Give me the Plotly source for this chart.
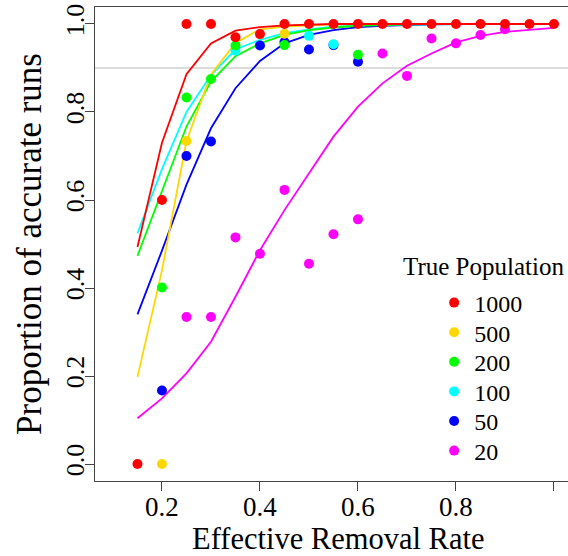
import plotly.graph_objects as go

# ---- data ----
groups = ["20", "50", "100", "200", "500", "1000"]
legend_order = ["1000", "500", "200", "100", "50", "20"]
colors = {"1000": "#FF0000", "500": "#FFD700", "200": "#00FF00",
          "100": "#00FFFF", "50": "#0000FF", "20": "#FF00FF"}

# observed proportions
obs_x = {
    "1000": [0.15, 0.2, 0.25, 0.3, 0.35, 0.4, 0.45, 0.5, 0.55, 0.6, 0.65, 0.7, 0.75, 0.8, 0.85, 0.9, 0.95, 1.0],
    "500": [0.2, 0.25, 0.45],
    "200": [0.2, 0.25, 0.3, 0.35, 0.45, 0.6],
    "100": [0.35, 0.5, 0.55],
    "50": [0.2, 0.25, 0.3, 0.4, 0.45, 0.5, 0.55, 0.6],
    "20": [0.25, 0.3, 0.35, 0.4, 0.45, 0.5, 0.55, 0.6, 0.65, 0.7, 0.75, 0.8, 0.85, 0.9],
}
obs_y = {
    "1000": [0.0, 0.6, 1.0, 1.0, 0.97, 0.977, 1, 1, 1, 1, 1, 1, 1, 1, 1, 1, 1, 1],
    "500": [0.0, 0.734, 0.978],
    "200": [0.401, 0.833, 0.875, 0.951, 0.952, 0.93],
    "100": [0.939, 0.973, 0.954],
    "50": [0.167, 0.70, 0.733, 0.951, 0.959, 0.942, 0.952, 0.914],
    "20": [0.334, 0.334, 0.515, 0.478, 0.623, 0.455, 0.522, 0.556, 0.933, 0.882, 0.967, 0.956, 0.975, 0.988],
}

# fitted curves
fit_x = [0.15, 0.2, 0.25, 0.3, 0.35, 0.4, 0.45, 0.5, 0.55, 0.6, 0.65, 0.7, 0.75, 0.8, 0.85, 0.9, 0.95, 1.0]
fit_y = {
    "1000": [0.493, 0.73, 0.886, 0.956, 0.985, 0.993, 0.997, 0.999, 1.0, 1.0, 1.0, 1.0, 1.0, 1.0, 1.0, 1.0, 1.0, 1.0],
    "500": [0.198, 0.44, 0.734, 0.885, 0.957, 0.988, 0.994, 0.997, 0.999, 1.0, 1.0, 1.0, 1.0, 1.0, 1.0, 1.0, 1.0, 1.0],
    "200": [0.473, 0.62, 0.767, 0.869, 0.927, 0.956, 0.975, 0.986, 0.992, 0.996, 0.998, 0.999, 1.0, 1.0, 1.0, 1.0, 1.0, 1.0],
    "100": [0.524, 0.67, 0.80, 0.884, 0.942, 0.964, 0.979, 0.988, 0.994, 0.997, 0.998, 0.999, 1.0, 1.0, 1.0, 1.0, 1.0, 1.0],
    "50": [0.34, 0.485, 0.635, 0.763, 0.854, 0.916, 0.956, 0.975, 0.986, 0.993, 0.996, 0.998, 0.999, 1.0, 1.0, 1.0, 1.0, 1.0],
    "20": [0.104, 0.149, 0.206, 0.278, 0.38, 0.486, 0.577, 0.661, 0.744, 0.812, 0.865, 0.905, 0.933, 0.958, 0.973, 0.982, 0.987, 0.991],
}

threshold = 0.9
x_ticks = [0.2, 0.4, 0.6, 0.8, 1.0]
y_ticks = [0.0, 0.2, 0.4, 0.6, 0.8, 1.0]

FONT = "Liberation Serif"
W, H = 568, 556
ML, MT, MB = 95, 7, 75
PH = H - MT - MB
PW = W - ML

fig = go.Figure()

fig.add_hline(y=threshold, line=dict(color="#D0D0D0", width=1.5), layer="below")

for g in groups:
    fig.add_trace(go.Scatter(x=fit_x, y=fit_y[g], mode="lines",
                             line=dict(color=colors[g], width=1.8),
                             showlegend=False, hoverinfo="skip"))

legend_ids = {}
for i, g in enumerate(legend_order):
    legend_ids[g] = "legend" if i == 0 else "legend%d" % (i + 1)

for g in groups:
    fig.add_trace(go.Scatter(x=obs_x[g], y=obs_y[g], mode="markers", name=g,
                             marker=dict(color=colors[g], size=10, line=dict(width=0)),
                             showlegend=True, legend=legend_ids[g]))

fig.add_annotation(text="True Population", xref="paper", yref="paper",
                   x=0.8224, y=0.452, xanchor="center", yanchor="middle",
                   showarrow=False, font=dict(family=FONT, size=25, color="black"))

# x-axis title as an annotation (placed below the tick labels)
fig.add_annotation(text="Effective Removal Rate", xref="paper", yref="paper",
                   x=(338 - ML) / PW, y=-(539 - (H - MB)) / PH, xanchor="center", yanchor="middle",
                   showarrow=False, font=dict(family=FONT, size=30.5, color="black"))

# one legend box per entry so entries can be spaced like the original
item_centers_px = [303, 332.6, 362.2, 391.8, 421.4, 451]
legend_layout = {}
for i, g in enumerate(legend_order):
    legend_layout[legend_ids[g]] = dict(
        x=0.717, y=1 - (item_centers_px[i] - MT) / PH, xanchor="left", yanchor="middle",
        bgcolor="rgba(0,0,0,0)", borderwidth=0,
        font=dict(family=FONT, size=24, color="black"), itemwidth=30)

fig.update_layout(
    width=W, height=H,
    template="none",
    paper_bgcolor="white", plot_bgcolor="white",
    margin=dict(l=ML, r=0, t=MT, b=MB),
    font=dict(family=FONT, size=26, color="black"),
    xaxis=dict(range=[0.0633, 1.0286], tickvals=x_ticks, ticktext=["0.2", "0.4", "0.6", "0.8", "1.0"],
               showgrid=False, zeroline=False, showline=True, mirror=True,
               linecolor="#444", linewidth=1, ticks="outside", ticklen=9, tickcolor="#444",
               tickfont=dict(family=FONT, size=27, color="black"), automargin=False,
               ticklabelstandoff=-7),
    yaxis=dict(range=[-0.0386, 1.0386], tickvals=y_ticks, ticktext=["0.0", "0.2", "0.4", "0.6", "0.8", "1.0"],
               showgrid=False, zeroline=False, showline=True, mirror=False,
               linecolor="#444", linewidth=1, ticks="outside", ticklen=9, tickcolor="#444",
               tickangle=-90, tickfont=dict(family=FONT, size=26, color="black"), automargin=False,
               ticklabelstandoff=-9,
               title=dict(text="Proportion of accurate runs", font=dict(family=FONT, size=35, color="black"), standoff=8)),
    **legend_layout,
)

fig.write_html("out.html", config={"displayModeBar": False},
               post_script="document.body.style.margin='0px';document.body.style.overflow='hidden';")
